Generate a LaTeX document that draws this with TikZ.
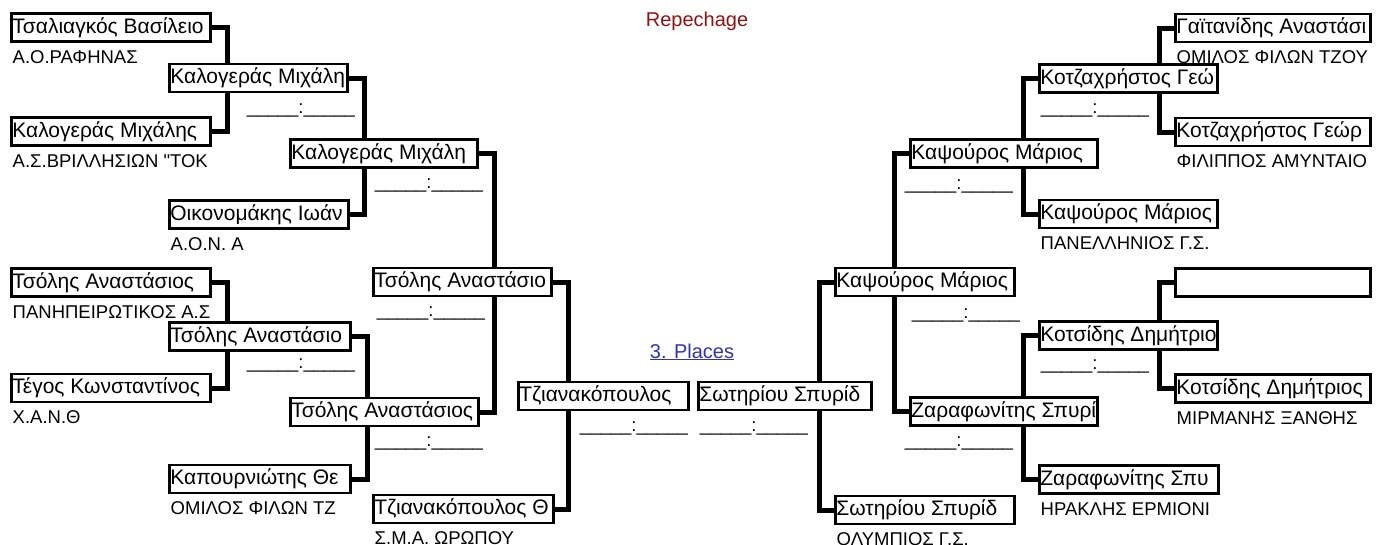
\documentclass[tikz,border=0pt]{standalone}
\usepackage{fontspec}
\setmainfont{Liberation Sans}
\newfontfamily\straightquote{Liberation Sans}
\usepackage{tikz}
\usetikzlibrary{backgrounds,positioning}
\definecolor{repechage-red}{RGB}{140,20,20}
\definecolor{places-blue}{RGB}{51,51,170}
\tikzset{
    player/.style = {draw, fill=white, rectangle, line width=2.8pt, inner xsep=1pt, inner ysep=4pt,
        text height=15.5pt, text depth=4.5pt, anchor=west, font=\fontsize{21}{24}\selectfont,
        execute at begin node={\hbox to \dimexpr#1-4.8pt\relax\bgroup},
        execute at end node={\hfil\egroup}},
    club/.style = {anchor=base west, inner sep=0pt, font=\fontsize{18.5}{21}\selectfont},
    score/.style = {anchor=base, inner sep=0pt, font=\fontsize{18.5}{21}\selectfont},
    heading/.style = {anchor=base, inner sep=0pt, font=\fontsize{20}{24}\selectfont},
    link/.style = {line width=5pt, line join=miter},
}

\begin{document}
\begin{tikzpicture}[x=1pt, y=-1pt]
\useasboundingbox (0,0) rectangle (1387,544);

% left half
\node [player=202pt] (b1) at (10,27.5) {Τσαλιαγκός Βασίλειο};
\node [player=202pt] (b2) at (10,131.5) {Καλογεράς Μιχάλης};
\node [player=202pt] (b3) at (10,282.5) {Τσόλης Αναστάσιος};
\node [player=202pt] (b4) at (10,388) {Τέγος Κωνσταντίνος};
\node [player=181pt] (c1) at (168,78) {Καλογεράς Μιχάλη};
\node [player=182pt] (c2) at (168,214.5) {Οικονομάκης Ιωάν};
\node [player=184pt] (c3) at (168,336.5) {Τσόλης Αναστάσιο};
\node [player=184pt] (c4) at (168,479) {Καπουρνιώτης Θε};
\node [player=190pt] (d1) at (289,153.5) {Καλογεράς Μιχάλη};
\node [player=191pt] (d2) at (289,412) {Τσόλης Αναστάσιος};
\node [player=181pt] (e1) at (372,282) {Τσόλης Αναστάσιο};
\node [player=183pt] (e2) at (372,509) {Τζιανακόπουλος Θ};
\node [player=173pt] (fl) at (517,396) {Τζιανακόπουλος};

\node [club] (b1c) at ([shift={(2.5pt,-20.5pt)}]b1.south west) {Α.Ο.ΡΑΦΗΝΑΣ};
\node [club] (b2c) at ([shift={(2.5pt,-20.5pt)}]b2.south west) {Α.Σ.ΒΡΙΛΛΗΣΙΩΝ {\straightquote"}ΤΟΚ};
\node [club] (b3c) at ([shift={(2.5pt,-20.5pt)}]b3.south west) {ΠΑΝΗΠΕΙΡΩΤΙΚΟΣ Α.Σ};
\node [club] (b4c) at ([shift={(2.5pt,-20.5pt)}]b4.south west) {Χ.Α.Ν.Θ};
\node [club] (c2c) at ([shift={(2.5pt,-20.5pt)}]c2.south west) {Α.Ο.Ν. Α};
\node [club] (c4c) at ([shift={(2.5pt,-20.5pt)}]c4.south west) {ΟΜΙΛΟΣ ΦΙΛΩΝ ΤΖ};
\node [club] (e2c) at ([shift={(2.5pt,-20.5pt)}]e2.south west) {Σ.Μ.Α. ΩΡΩΠΟΥ};

% right half
\node [player=176pt] (fr) at (697,396) {Σωτηρίου Σπυρίδ};
\node [player=182pt] (g1) at (834,282) {Καψούρος Μάριος};
\node [player=182pt] (g2) at (834,510) {Σωτηρίου Σπυρίδ};
\node [player=190pt] (h1) at (909,153.5) {Καψούρος Μάριος};
\node [player=190pt] (h2) at (909,411.5) {Ζαραφωνίτης Σπυρί};
\node [player=181pt] (k1) at (1038,78.5) {Κοτζαχρήστος Γεώ};
\node [player=181pt] (k2) at (1038,214) {Καψούρος Μάριος};
\node [player=181pt] (k3) at (1038,335.5) {Κοτσίδης Δημήτριο};
\node [player=182pt] (k4) at (1038,479.5) {Ζαραφωνίτης Σπυ};
\node [player=198pt] (m1) at (1174,28) {Γαϊτανίδης Αναστάσι};
\node [player=198pt] (m2) at (1174,132) {Κοτζαχρήστος Γεώρ};
\node [player=198pt] (m3) at (1174,282.5) {};
\node [player=198pt] (m4) at (1174,388.5) {Κοτσίδης Δημήτριος};

\node [club] (g2c) at ([shift={(2.5pt,-20.5pt)}]g2.south west) {ΟΛΥΜΠΙΟΣ Γ.Σ.};
\node [club] (k2c) at ([shift={(2.5pt,-20.5pt)}]k2.south west) {ΠΑΝΕΛΛΗΝΙΟΣ Γ.Σ.};
\node [club] (k4c) at ([shift={(2.5pt,-20.5pt)}]k4.south west) {ΗΡΑΚΛΗΣ ΕΡΜΙΟΝΙ};
\node [club] (m1c) at ([shift={(2.5pt,-20.5pt)}]m1.south west) {ΟΜΙΛΟΣ ΦΙΛΩΝ ΤΖΟΥ};
\node [club] (m2c) at ([shift={(2.5pt,-20.5pt)}]m2.south west) {ΦΙΛΙΠΠΟΣ ΑΜΥΝΤΑΙΟ};
\node [club] (m4c) at ([shift={(2.5pt,-20.5pt)}]m4.south west) {ΜΙΡΜΑΝΗΣ ΞΑΝΘΗΣ};

% scores
\node [score] (s1) at (301,113.5) {\_\_\_\_\_:\_\_\_\_\_};
\node [score] (s2) at (429,188.5) {\_\_\_\_\_:\_\_\_\_\_};
\node [score] (s3) at (301,368.5) {\_\_\_\_\_:\_\_\_\_\_};
\node [score] (s4) at (431,316.5) {\_\_\_\_\_:\_\_\_\_\_};
\node [score] (s5) at (429,446.5) {\_\_\_\_\_:\_\_\_\_\_};
\node [score] (s6) at (634,431.5) {\_\_\_\_\_:\_\_\_\_\_};
\node [score] (s7) at (754,431.5) {\_\_\_\_\_:\_\_\_\_\_};
\node [score] (s8) at (966,318.5) {\_\_\_\_\_:\_\_\_\_\_};
\node [score] (s9) at (959,189.5) {\_\_\_\_\_:\_\_\_\_\_};
\node [score] (s10) at (1095,113.5) {\_\_\_\_\_:\_\_\_\_\_};
\node [score] (s11) at (1095,369.5) {\_\_\_\_\_:\_\_\_\_\_};
\node [score] (s12) at (959,446.5) {\_\_\_\_\_:\_\_\_\_\_};

\node [heading, text=repechage-red] (repechage) at (697,26) {Repechage};
\node [heading, text=places-blue] (places) at (692,358) {\underline{3. Places}};

\begin{scope}[on background layer]
\fill [white] (0,0) rectangle (1387,544);
\draw [link] (b1.east) -- ++(15,0) |- (b2.east);
\draw [link] (b3.east) -- ++(15,0) |- (b4.east);
\draw [link] (c1.east) -- ++(15,0) |- (c2.east);
\draw [link] (c3.east) -- ++(15,0) |- (c4.east);
\draw [link] (d1.east) -- ++(15,0) |- (d2.east);
\draw [link] (e1.east) -- ++(15,0) |- (e2.east);
\draw [link] (m1.west) -- ++(-15,0) |- (m2.west);
\draw [link] (m3.west) -- ++(-15,0) |- (m4.west);
\draw [link] (k1.west) -- ++(-15,0) |- (k2.west);
\draw [link] (k3.west) -- ++(-15,0) |- (k4.west);
\draw [link] (h1.west) -- ++(-15,0) |- (h2.west);
\draw [link] (g1.west) -- ++(-15,0) |- (g2.west);
\end{scope}
\end{tikzpicture}
\end{document}
